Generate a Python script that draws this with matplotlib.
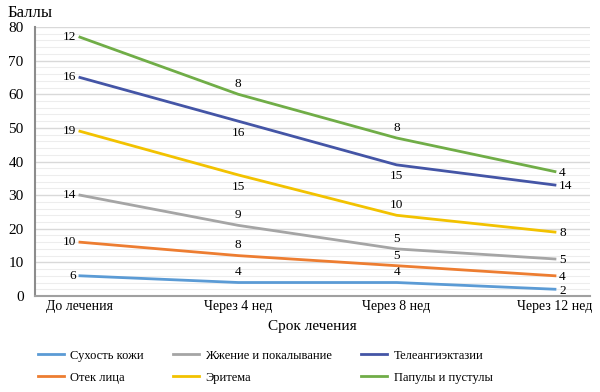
import numpy as np
import matplotlib.pyplot as plt
from matplotlib.ticker import MultipleLocator

plt.rcParams['font.family'] = ['Liberation Serif', 'DejaVu Serif']

periods = ["До лечения", "Через 4 нед", "Через 8 нед", "Через 12 нед"]
names = ["Сухость кожи", "Отек лица", "Жжение и покалывание",
         "Эритема", "Телеангиэктазии", "Папулы и пустулы"]
dry = [6, 4, 4, 2]
edema = [10, 8, 5, 4]
burning = [14, 9, 5, 5]
erythema = [19, 15, 10, 8]
telang = [16, 16, 15, 14]
papules = [12, 8, 8, 4]
colors = ["#5B9BD5", "#ED7D31", "#A5A5A5", "#F2C200", "#4455A6", "#70AD47"]

series = [dry, edema, burning, erythema, telang, papules]
x = np.arange(len(periods))

# labels that sit under the line instead of above (series index, point index)
below = {(3, 1), (4, 1), (4, 2)}

fig = plt.figure(figsize=(6, 3.92), dpi=100)
ax = fig.add_axes([0.058, 0.245, 0.925, 0.686])

total = np.zeros(len(periods))
for k, (vals, name, c) in enumerate(zip(series, names, colors)):
    total = total + np.array(vals)
    ax.plot(x, total, color=c, lw=2, label=name, zorder=3)
    for i, (xi, yi) in enumerate(zip(x, total)):
        if i == 0:
            ax.annotate(str(vals[i]), (xi, yi), xytext=(-3, 0), textcoords="offset points",
                        ha="right", va="center", fontsize=9.5)
        elif i == len(x) - 1:
            ax.annotate(str(vals[i]), (xi, yi), xytext=(3, -1), textcoords="offset points",
                        ha="left", va="center", fontsize=9.5)
        elif (k, i) in below:
            ax.annotate(str(vals[i]), (xi, yi), xytext=(0, -4), textcoords="offset points",
                        ha="center", va="top", fontsize=9.5)
        else:
            ax.annotate(str(vals[i]), (xi, yi), xytext=(0, 3), textcoords="offset points",
                        ha="center", va="bottom", fontsize=9.5)

ax.set_xlim(-0.285, 3.22)
ax.set_ylim(0, 80)
ax.set_xticks(x)
ax.set_xticklabels(periods, fontsize=10)
ax.yaxis.set_major_locator(MultipleLocator(10))
ax.yaxis.set_minor_locator(MultipleLocator(2))
ax.tick_params(axis="y", length=0, labelsize=11, pad=8)
ax.tick_params(axis="x", length=0, pad=3)
ax.tick_params(axis="y", which="minor", length=0)
ax.grid(axis="y", which="major", color="#D9D9D9", lw=1)
ax.grid(axis="y", which="minor", color="#EDEDED", lw=0.8)
ax.set_axisbelow(True)
for s in ["top", "right"]:
    ax.spines[s].set_visible(False)
ax.spines["left"].set_color("#8C8C8C")
ax.spines["left"].set_linewidth(1.5)
ax.spines["bottom"].set_color("#A0A0A0")
ax.spines["bottom"].set_linewidth(1.5)

ax.set_xlabel("Срок лечения", fontsize=11, labelpad=5)
fig.text(0.013, 0.968, "Баллы", fontsize=12, va="center")

fig.legend(loc="lower left", bbox_to_anchor=(0.055, 0.008), ncol=3, frameon=False,
           fontsize=9, handlelength=2.1, handletextpad=0.5, columnspacing=2.3,
           labelspacing=0.8, borderaxespad=0)

fig.savefig("out.png", dpi=100)
